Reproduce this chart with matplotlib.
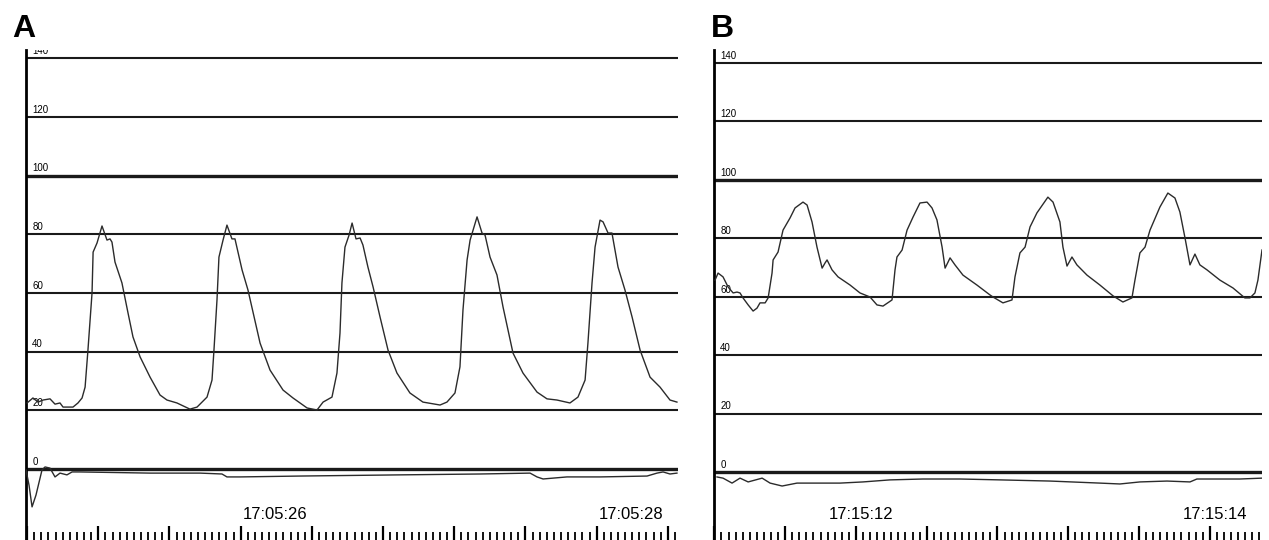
import numpy as np
import matplotlib
matplotlib.use("Agg")
import matplotlib.pyplot as plt
from matplotlib.ticker import FixedLocator

plt.rcParams['font.family'] = ['Liberation Sans', 'DejaVu Sans']

# ---------------- data ----------------
# Panel A: pressure trace (time in s relative to 17:05:26, value)
a_time = [-1.393, -1.360, -1.331, -1.303, -1.264, -1.236, -1.208, -1.191, -1.135, -1.107,
          -1.084, -1.067, -1.051, -1.028, -1.022, -1.000, -0.972, -0.944, -0.927, -0.916,
          -0.899, -0.860, -0.826, -0.798, -0.758, -0.702, -0.646, -0.607, -0.551, -0.478,
          -0.438, -0.382, -0.354, -0.343, -0.326, -0.315, -0.292, -0.270, -0.242, -0.225,
          -0.185, -0.152, -0.084, -0.028, 0.045, 0.101, 0.180, 0.236, 0.270, 0.320,
          0.348, 0.365, 0.376, 0.393, 0.416, 0.433, 0.455, 0.478, 0.494, 0.522,
          0.551, 0.590, 0.635, 0.685, 0.758, 0.831, 0.927, 0.966, 1.011, 1.039,
          1.056, 1.079, 1.096, 1.135, 1.163, 1.180, 1.208, 1.247, 1.281, 1.337,
          1.393, 1.472, 1.528, 1.584, 1.657, 1.702, 1.742, 1.758, 1.781, 1.798,
          1.826, 1.843, 1.871, 1.893, 1.927, 1.966, 2.006, 2.051, 2.107, 2.163,
          2.219, 2.258]
a_value = [22.5, 24.2, 22.8, 23.5, 23.9, 22.1, 22.5, 21.1, 21.1, 22.5,
           24.2, 27.9, 40.5, 60.0, 73.9, 77.0, 82.8, 78.0, 78.4, 77.3,
           70.5, 63.4, 53.2, 45.0, 38.2, 31.3, 25.2, 23.5, 22.5, 20.4,
           21.1, 24.5, 30.3, 40.5, 57.6, 72.2, 78.0, 83.1, 78.4, 78.4,
           67.8, 61.0, 42.9, 33.7, 26.9, 24.2, 20.8, 20.1, 22.8, 24.5,
           32.7, 46.3, 63.4, 75.6, 79.7, 83.8, 78.4, 78.7, 76.3, 68.8,
           62.0, 51.8, 40.5, 32.7, 25.9, 22.8, 21.8, 22.8, 25.9, 34.8,
           54.2, 71.2, 78.0, 85.9, 80.4, 79.7, 72.2, 66.1, 55.2, 39.5,
           32.7, 26.2, 23.9, 23.5, 22.5, 24.5, 30.3, 42.9, 63.4, 75.6,
           84.8, 84.2, 80.4, 80.4, 68.8, 61.0, 51.8, 40.5, 31.3, 27.9,
           23.5, 22.8]

# Panel A: lower trace (below zero line)
a2_time = [-1.399, -1.382, -1.365, -1.343, -1.309, -1.292, -1.264, -1.236, -1.208, -1.169,
           -1.140, -1.096, -0.702, -0.421, -0.298, -0.270, -0.197, 0.140, 0.702, 1.152,
           1.433, 1.472, 1.506, 1.640, 1.826, 2.090, 2.146, 2.180, 2.219, 2.258]
a2_value = [-0.3, -5.5, -12.9, -8.9, -0.3, 0.7, 0.3, -2.7, -1.4, -2.0,
            -1.0, -1.0, -1.4, -1.4, -1.7, -2.7, -2.7, -2.4, -2.0, -1.7,
            -1.4, -2.7, -3.4, -2.7, -2.7, -2.4, -1.4, -1.0, -1.7, -1.4]

# Panel B: pressure trace (time in s relative to 17:15:12, value)
b_time = [-0.825, -0.808, -0.780, -0.751, -0.723, -0.701, -0.684, -0.667, -0.638, -0.610,
          -0.588, -0.571, -0.542, -0.525, -0.503, -0.497, -0.469, -0.441, -0.401, -0.373,
          -0.328, -0.305, -0.277, -0.249, -0.220, -0.203, -0.192, -0.164, -0.130, -0.062,
          -0.006, 0.051, 0.090, 0.124, 0.175, 0.192, 0.203, 0.232, 0.260, 0.294,
          0.333, 0.373, 0.401, 0.429, 0.458, 0.475, 0.492, 0.503, 0.531, 0.576,
          0.655, 0.729, 0.746, 0.802, 0.853, 0.870, 0.898, 0.927, 0.955, 0.994,
          1.056, 1.085, 1.124, 1.141, 1.164, 1.192, 1.220, 1.277, 1.350, 1.424,
          1.480, 1.531, 1.548, 1.576, 1.605, 1.633, 1.689, 1.734, 1.774, 1.802,
          1.831, 1.859, 1.887, 1.915, 1.955, 2.028, 2.102, 2.169, 2.198, 2.226,
          2.243, 2.266]
b_value = [65.7, 68.1, 66.8, 63.3, 61.3, 61.6, 61.3, 59.6, 57.2, 55.1,
           56.1, 57.9, 57.9, 59.6, 68.1, 72.6, 75.3, 82.8, 87.0, 90.4,
           92.4, 91.4, 85.6, 77.0, 69.8, 71.6, 72.6, 69.2, 66.8, 64.0,
           61.3, 59.9, 57.2, 56.8, 58.9, 69.2, 73.6, 76.0, 82.8, 87.3,
           92.1, 92.4, 90.4, 86.3, 77.0, 69.8, 71.9, 73.3, 70.9, 67.4,
           64.0, 60.6, 59.9, 57.9, 58.9, 66.8, 75.0, 77.0, 83.9, 88.7,
           94.1, 92.4, 85.6, 77.0, 70.5, 73.6, 70.9, 67.4, 64.0, 60.3,
           58.2, 59.6, 65.7, 75.0, 77.0, 82.8, 90.7, 95.5, 93.8, 89.0,
           80.1, 70.9, 74.6, 70.9, 69.2, 65.7, 63.0, 59.6, 59.6, 61.3,
           65.7, 76.0]

# Panel B: lower trace
b2_time = [-0.814, -0.780, -0.729, -0.684, -0.638, -0.559, -0.514, -0.446, -0.362, -0.249,
           -0.119, 0.011, 0.164, 0.350, 0.559, 0.785, 1.068, 1.350, 1.463, 1.576,
           1.729, 1.859, 1.898, 2.011, 2.141, 2.266]
b2_value = [-1.7, -2.1, -3.8, -2.1, -3.4, -2.1, -3.8, -4.8, -3.8, -3.8,
            -3.8, -3.4, -2.7, -2.4, -2.4, -2.7, -3.1, -3.8, -4.1, -3.4,
            -3.1, -3.4, -2.4, -2.4, -2.4, -2.1]

grid_levels = [0, 20, 40, 60, 80, 100, 120, 140]
thick_levels = [0, 100]
a_time_labels = ['17:05:26', '17:05:28']
b_time_labels = ['17:15:12', '17:15:14']
label_seconds = [0, 2]

# ---------------- figure ----------------
W, H = 1269, 540
fig = plt.figure(figsize=(W / 100, H / 100), dpi=100)
fig.patch.set_facecolor('white')

LINE = '#1a1a1a'
TRACE = '#2b2b2b'


def make_panel(left_px, right_px, xlim, ylim, tick_start, t, v, t2, v2, tlabels, letter, letter_x):
    ax = fig.add_axes([left_px / W, 0, (right_px - left_px) / W, (H - 50) / H])
    ax.set_xlim(*xlim)
    ax.set_ylim(*ylim)
    for s in ['top', 'right', 'bottom']:
        ax.spines[s].set_visible(False)
    ax.spines['left'].set_linewidth(2.0)
    ax.spines['left'].set_color('black')
    ax.set_yticks([])
    # ruler ticks
    majors = np.arange(tick_start, xlim[1] + 1e-6, 0.4)
    minors = np.arange(tick_start, xlim[1] + 1e-6, 0.04)
    ax.xaxis.set_major_locator(FixedLocator(majors))
    ax.xaxis.set_minor_locator(FixedLocator(minors))
    ax.tick_params(axis='x', which='major', direction='in', length=10, width=1.6,
                   color='black', labelbottom=False)
    ax.tick_params(axis='x', which='minor', direction='in', length=6, width=1.3,
                   color='black')
    # grid lines with labels
    for lv in grid_levels:
        lw = 2.4 if lv in thick_levels else 1.5
        ax.axhline(lv, color=LINE, lw=lw, zorder=2)
        ax.annotate(str(lv), xy=(0, lv), xycoords=('axes fraction', 'data'),
                    xytext=(4.5, 3), textcoords='offset points', fontsize=7,
                    ha='left', va='baseline', annotation_clip=False, clip_on=True, color='black')
    ax.plot(t, v, color=TRACE, lw=1.0, zorder=3)
    ax.plot(t2, v2, color=TRACE, lw=1.0, zorder=3)
    for lab, sec in zip(tlabels, label_seconds):
        ax.text(sec, 0.053, lab, transform=ax.get_xaxis_transform(), ha='center',
                va='center', fontsize=12, color='black')
    fig.text(letter_x / W, 1 - 37 / H, letter, fontsize=23, fontweight='bold',
             ha='left', va='baseline')
    return ax


axA = make_panel(26, 678, (-1.399, 2.264), (-24.19, 142.76), -1.393,
                 a_time, a_value, a2_time, a2_value, a_time_labels, 'A', 12)
axB = make_panel(714, 1262, (-0.831, 2.266), (-23.28, 144.47), -0.829,
                 b_time, b_value, b2_time, b2_value, b_time_labels, 'B', 711)

fig.savefig('out.png', dpi=100, facecolor='white')
